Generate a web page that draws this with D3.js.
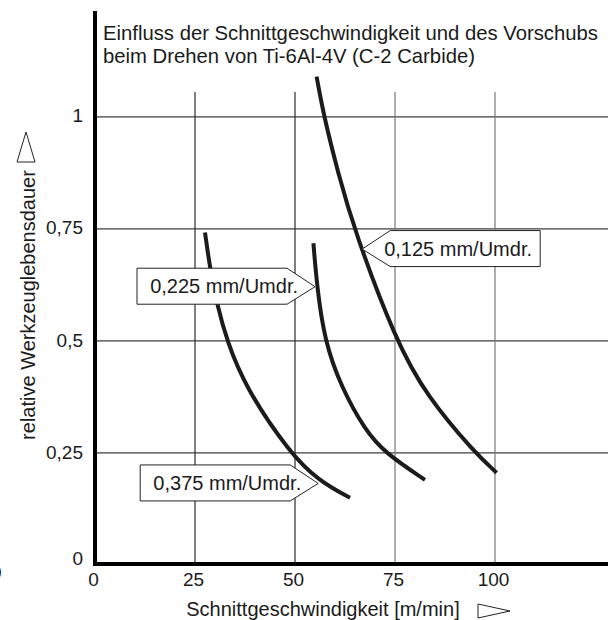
<!DOCTYPE html>
<html>
<head>
<meta charset="utf-8">
<script src="https://cdn.jsdelivr.net/npm/d3@7"></script>
<style>
  html, body { margin: 0; padding: 0; background: #fff; }
  svg { display: block; font-family: "Liberation Sans", Arial, Helvetica, sans-serif; }
</style>
</head>
<body>
<svg id="chart" width="608" height="620"></svg>
<script>
// Tool life vs. cutting speed for three feed rates (Ti-6Al-4V, C-2 carbide)
const titleLines = ["Einfluss der Schnittgeschwindigkeit und des Vorschubs",
                    "beim Drehen von Ti-6Al-4V (C-2 Carbide)"];
const xAxisTitle = "Schnittgeschwindigkeit [m/min]";
const yAxisTitle = "relative Werkzeuglebensdauer";

const xTicks = [0, 25, 50, 75, 100];
const xTickLabels = ["0", "25", "50", "75", "100"];
const yTicks = [0, 0.25, 0.5, 0.75, 1];
const yTickLabels = ["0", "0,25", "0,5", "0,75", "1"];

// [Schnittgeschwindigkeit, relative Standzeit]
const feed0125 = [[55.4, 1.09], [57.25, 1.0], [60.8, 0.874], [64.75, 0.749],
                  [75.2, 0.5], [83, 0.376], [95, 0.25], [100.4, 0.206]];
const feed0225 = [[54.6, 0.718], [55.5, 0.621], [57.4, 0.5], [61.5, 0.398], [67.5, 0.301],
                  [72.5, 0.25], [82.5, 0.19]];
const feed0375 = [[27.5, 0.742], [28.75, 0.662], [30.6, 0.578], [33.0, 0.5], [37.5, 0.398],
                  [48.75, 0.249], [56.1, 0.187], [63.75, 0.15]];

const seriesNames = ["0,125 mm/Umdr.", "0,225 mm/Umdr.", "0,375 mm/Umdr."];
const seriesData = [feed0125, feed0225, feed0375];
// point on each curve that its callout arrow touches
const calloutAnchors = [[66.8, 0.705], [55.0, 0.621], [55.8, 0.182]];
const calloutSides = ["right", "left", "left"];

const svg = d3.select("#chart");
const W = 608, H = 620;

const x = d3.scaleLinear().domain([0, 128.25]).range([95, 608]);
const y = d3.scaleLinear().domain([0, 1.234]).range([565, 12]);

const gridTop = 92;          // vertical grid stops below the title block
const ink = "#1b1b1b";

// horizontal grid
svg.append("g").selectAll("line")
  .data(yTicks.filter(d => d > 0))
  .join("line")
  .attr("x1", x(0)).attr("x2", W)
  .attr("y1", d => y(d)).attr("y2", d => y(d))
  .attr("stroke", "#3c3c3c").attr("stroke-width", 1.2);

// vertical grid
svg.append("g").selectAll("line")
  .data(xTicks.filter(d => d > 0))
  .join("line")
  .attr("x1", d => x(d)).attr("x2", d => x(d))
  .attr("y1", gridTop).attr("y2", y(0))
  .attr("stroke", d => d <= 50 ? "#2a2a2a" : "#777")
  .attr("stroke-width", 1.2);

// title
svg.append("text")
  .attr("x", 103).attr("y", 40)
  .attr("font-size", 20.3).attr("fill", ink)
  .selectAll("tspan").data(titleLines).join("tspan")
  .attr("x", 103).attr("dy", (d, i) => i === 0 ? 0 : 23)
  .text(d => d);

// curves
const line = d3.line()
  .x(d => x(d[0])).y(d => y(d[1]))
  .curve(d3.curveBasis);

svg.append("g").selectAll("path")
  .data(seriesData)
  .join("path")
  .attr("d", line)
  .attr("fill", "none")
  .attr("stroke", ink)
  .attr("stroke-width", 4)
  .attr("stroke-linecap", "butt");

// callouts: pentagon boxes pointing at each curve
const boxW = 150, boxH = 36, notch = 28;
const callouts = svg.append("g").selectAll("g")
  .data(seriesNames.map((name, i) => ({ name, at: calloutAnchors[i], side: calloutSides[i] })))
  .join("g");

callouts.append("path")
  .attr("d", d => {
    const tx = x(d.at[0]), ty = y(d.at[1]);
    const top = ty - boxH / 2 - 0.5, bot = ty + boxH / 2 - 0.5;
    if (d.side === "left") {
      const r = tx - notch, l = r - boxW;
      return `M${tx},${ty}L${r},${top}L${l},${top}L${l},${bot}L${r},${bot}Z`;
    }
    const l = tx + notch, r = l + boxW;
    return `M${tx},${ty}L${l},${top}L${r},${top}L${r},${bot}L${l},${bot}Z`;
  })
  .attr("fill", "#fff").attr("stroke", "#222").attr("stroke-width", 1);

callouts.append("text")
  .attr("x", d => d.side === "left" ? x(d.at[0]) - 17 : x(d.at[0]) + 22)
  .attr("y", d => y(d.at[1]) + 6.5)
  .attr("text-anchor", d => d.side === "left" ? "end" : "start")
  .attr("font-size", 20).attr("fill", ink)
  .text(d => d.name);

// axis tick labels
const xAxis = d3.axisBottom(x).tickValues(xTicks)
  .tickFormat((d, i) => xTickLabels[i]).tickSize(0).tickPadding(0);
const gx = svg.append("g").attr("transform", "translate(-2,572)").call(xAxis);
gx.select(".domain").remove();
gx.selectAll("text").attr("font-size", 19).attr("fill", ink)
  .attr("font-family", null).attr("dy", "0.75em");

const yAxis = d3.axisLeft(y).tickValues(yTicks)
  .tickFormat((d, i) => yTickLabels[i]).tickSize(0).tickPadding(0);
const gy = svg.append("g").attr("transform", "translate(83,-1)").call(yAxis);
gy.select(".domain").remove();
gy.selectAll("text").attr("font-size", 19).attr("fill", ink).attr("font-family", null);
// the zero label sits just above the heavy baseline
gy.selectAll(".tick").filter(d => d === 0).select("text").attr("dy", "0.0em");

// stray clipped label at the left edge
svg.append("text").attr("x", -9).attr("y", 579)
  .attr("font-size", 19).attr("fill", ink).text("0");

// heavy axis frame
svg.append("line")
  .attr("x1", x(0)).attr("x2", x(0)).attr("y1", 11).attr("y2", y(0) + 1)
  .attr("stroke", "#000").attr("stroke-width", 4);
svg.append("line")
  .attr("x1", x(0) - 2).attr("x2", W).attr("y1", y(0) - 1).attr("y2", y(0) - 1)
  .attr("stroke", "#000").attr("stroke-width", 4);

// axis titles with direction triangles
svg.append("text")
  .attr("x", 323).attr("y", 616)
  .attr("text-anchor", "middle").attr("font-size", 20).attr("fill", ink)
  .text(xAxisTitle);
svg.append("path")
  .attr("d", "M478,604L510,611L478,618Z")
  .attr("fill", "#fff").attr("stroke", "#222").attr("stroke-width", 1);

svg.append("text")
  .attr("transform", "translate(35,305) rotate(-90)")
  .attr("text-anchor", "middle").attr("font-size", 20).attr("fill", ink)
  .text(yAxisTitle);
svg.append("path")
  .attr("d", "M17,162L35,162L26,132Z")
  .attr("fill", "#fff").attr("stroke", "#222").attr("stroke-width", 1);
</script>
</body>
</html>
